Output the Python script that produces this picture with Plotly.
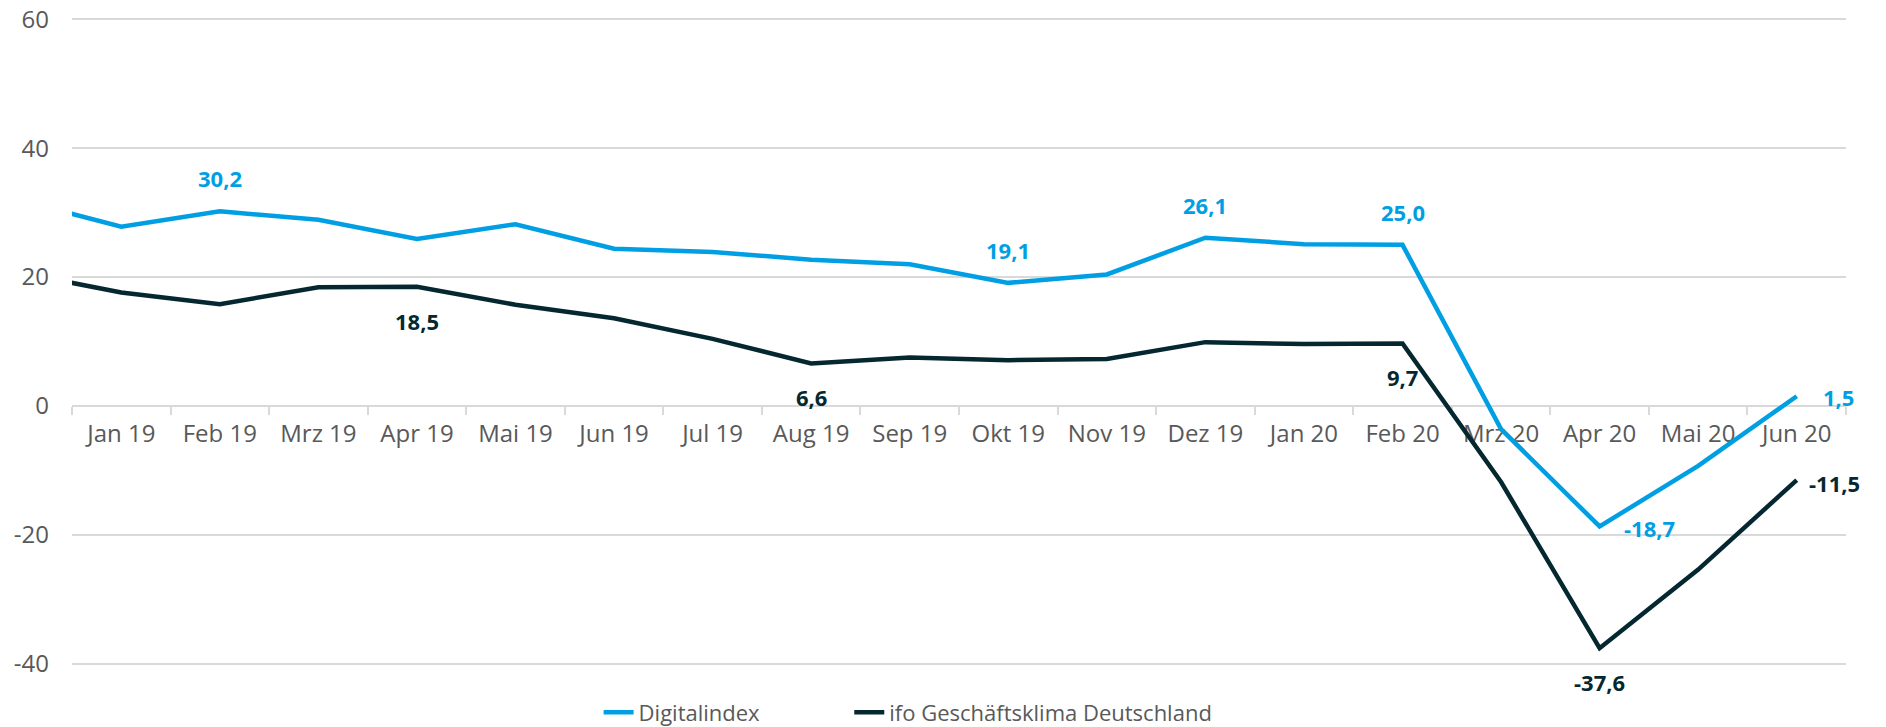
import plotly.graph_objects as go

# months (first entry only feeds the line running in from the left edge)
months = ["Dez 18", "Jan 19", "Feb 19", "Mrz 19", "Apr 19", "Mai 19", "Jun 19", "Jul 19",
          "Aug 19", "Sep 19", "Okt 19", "Nov 19", "Dez 19", "Jan 20", "Feb 20",
          "Mrz 20", "Apr 20", "Mai 20", "Jun 20"]
digitalindex = [31.8, 27.8, 30.2, 28.9, 25.9, 28.2, 24.4, 23.9, 22.7, 22.0, 19.1,
                20.4, 26.1, 25.1, 25.0, -3.6, -18.7, -9.3, 1.5]
ifo = [20.6, 17.6, 15.8, 18.4, 18.5, 15.7, 13.6, 10.4, 6.6, 7.5, 7.1,
       7.3, 9.9, 9.6, 9.7, -11.8, -37.6, -25.4, -11.5]

digital_labels = ["Feb 19", "Okt 19", "Dez 19", "Feb 20", "Apr 20", "Jun 20"]
ifo_labels = ["Apr 19", "Aug 19", "Feb 20", "Apr 20", "Jun 20"]

y_ticks = [-40, -20, 0, 20, 40, 60]

BLUE = "#009FE3"
DARK = "#052830"
GREY = "#595959"
GRID = "#D9D9D9"
FONT = "Open Sans"


def fmt(v):
    return f"{v:.1f}".replace(".", ",")


fig = go.Figure()
fig.add_trace(go.Scatter(x=months, y=digitalindex, mode="lines", name="Digitalindex",
                         line=dict(color=BLUE, width=4.5), legend="legend"))
fig.add_trace(go.Scatter(x=months, y=ifo, mode="lines", name="ifo Geschäftsklima Deutschland",
                         line=dict(color=DARK, width=4.5), legend="legend2"))

# label placement: (xanchor, xshift, yshift)
place_digital = {"Apr 20": ("left", 22, -2), "Jun 20": ("left", 24, -1)}
place_ifo = {"Jun 20": ("left", 10, -3)}

for m in digital_labels:
    v = digitalindex[months.index(m)]
    xa, xs, ys = place_digital.get(m, ("center", 0, 33))
    fig.add_annotation(x=m, y=v, text=fmt(v), showarrow=False, xanchor=xa, yanchor="middle",
                       xshift=xs, yshift=ys, font=dict(family=FONT, size=22, color=BLUE, weight="bold"))
for m in ifo_labels:
    v = ifo[months.index(m)]
    xa, xs, ys = place_ifo.get(m, ("center", 0, -34))
    fig.add_annotation(x=m, y=v, text=fmt(v), showarrow=False, xanchor=xa, yanchor="middle",
                       xshift=xs, yshift=ys, font=dict(family=FONT, size=22, color=DARK, weight="bold"))

legend_style = dict(orientation="h", xref="container", yref="container", yanchor="middle",
                    y=0.02, xanchor="left", bgcolor="rgba(0,0,0,0)",
                    font=dict(family=FONT, size=22, color=GREY))

fig.update_layout(
    width=1886, height=727,
    margin=dict(l=72, r=40, t=18, b=62, autoexpand=False),
    plot_bgcolor="white", paper_bgcolor="white",
    font=dict(family=FONT, color=GREY),
    showlegend=True,
    legend=dict(x=0.3174, **legend_style),
    legend2=dict(x=0.4503, **legend_style),
    xaxis=dict(type="category", categoryarray=months, range=[0.5, 18.5], automargin=False,
               tickson="boundaries", ticks="outside", ticklen=8, tickwidth=2, tickcolor=GRID,
               showline=True, linecolor=GRID, linewidth=2, showgrid=False,
               anchor="free", position=40.2 / 100.4, layer="below traces",
               ticklabelstandoff=6,
               tickfont=dict(family=FONT, size=24, color=GREY)),
    yaxis=dict(range=[-40.2, 60.2], tickvals=y_ticks, ticktext=[str(t) for t in y_ticks],
               automargin=False,
               showgrid=True, gridcolor=GRID, gridwidth=2, zeroline=False, showline=False,
               ticklabelstandoff=22, tickfont=dict(family=FONT, size=24, color=GREY)),
)

fig.write_html("out.html", config={"displayModeBar": False},
               post_script="document.body.style.margin = '0';")
